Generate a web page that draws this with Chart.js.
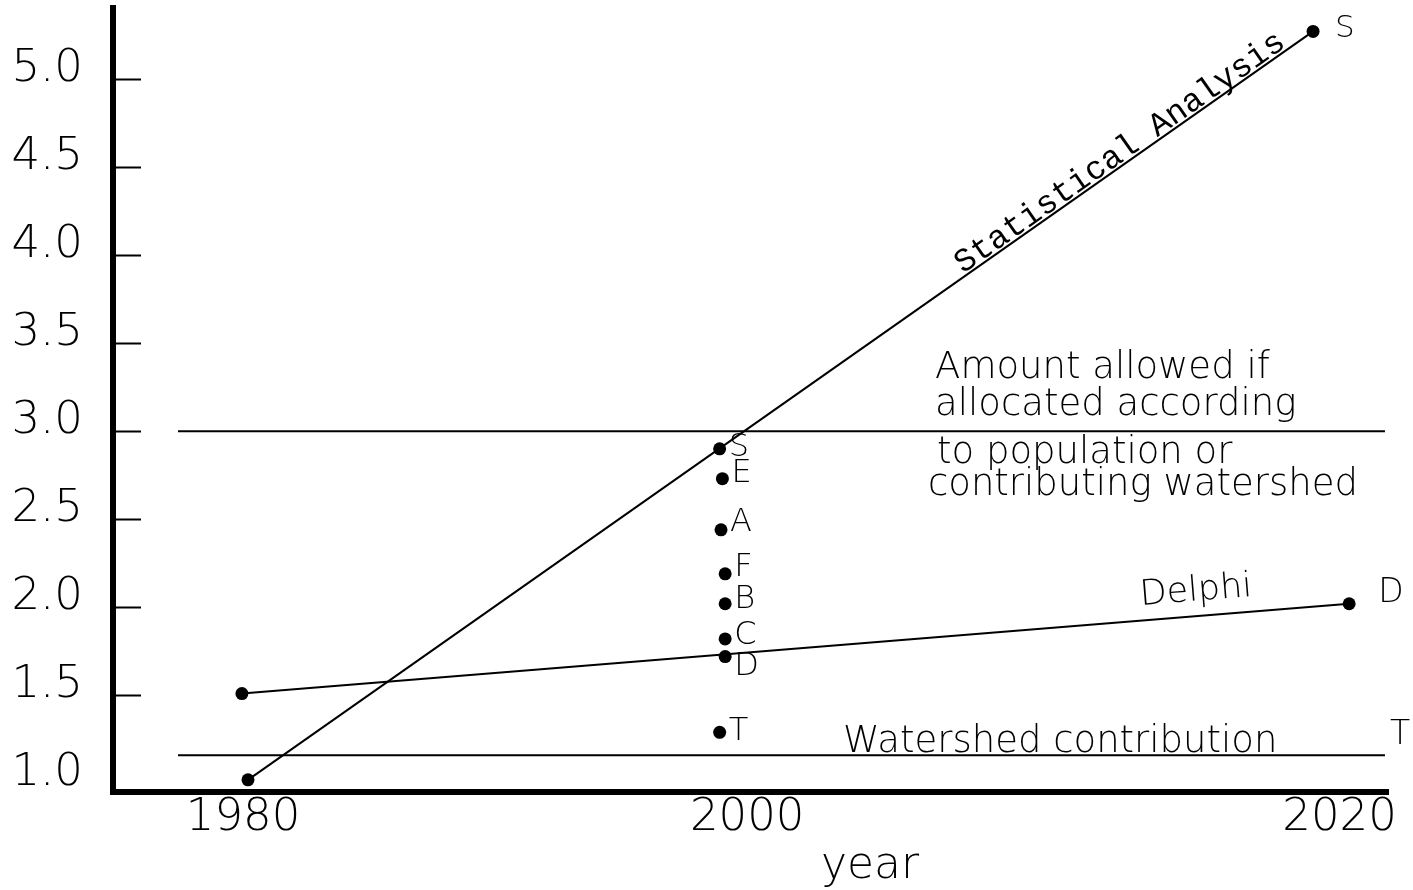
<!DOCTYPE html>
<html>
<head>
<meta charset="utf-8">
<script src="https://cdn.jsdelivr.net/npm/chart.js@4/dist/chart.umd.min.js"></script>
<style>
  html, body { margin: 0; padding: 0; background: #fff; }
  #wrap { width: 1413px; height: 890px; }
</style>
</head>
<body>
<div id="wrap"><canvas id="c" width="1413" height="890"></canvas></div>
<script>
// ---------------- data ----------------
const xTickLabels = ['1980', '2000', '2020'];
const xTickYears  = [1980, 1998.3, 2019.8];
const xAxisTitle  = 'year';

const statYears  = [1980.18, 2018.84];
const statValues = [1.02, 5.27];
const statEndLabel = 'S';

const delphiYears  = [1979.96, 2020.15];
const delphiValues = [1.51, 2.02];
const delphiEndLabel = 'D';

const allocYears  = [1977.64, 2021.45];
const allocValues = [3.0, 3.0];

const watershedYears  = [1977.64, 2021.45];
const watershedValues = [1.16, 1.16];
const watershedEndLabel = 'T';

const estLabels = ['S', 'E', 'A', 'F', 'B', 'C', 'D', 'T'];
const estYears  = [1997.3, 1997.4, 1997.35, 1997.5, 1997.5, 1997.5, 1997.5, 1997.3];
const estValues = [2.90, 2.73, 2.44, 2.19, 2.02, 1.82, 1.72, 1.29];

const allocNoteLines = ['Amount allowed if', 'allocated according', 'to population or', 'contributing watershed'];
const statNote = 'Statistical Analysis';
const delphiNote = 'Delphi';
const watershedNote = 'Watershed contribution';

// ---------------- layout / style ----------------
const SANS = '"DejaVu Sans", "Liberation Sans", sans-serif';
const MONO = '"Liberation Mono", "DejaVu Sans Mono", monospace';
const LIGHT = 200;
const noteLayout = {
  alloc: [ {x: 2005.12, y: 3.30}, {x: 2005.12, y: 3.09}, {x: 2005.19, y: 2.82}, {x: 2004.86, y: 2.64} ],
  stat: {x: 2011.83, y: 4.58},
  delphi: {x: 2014.59, y: 2.09},
  watershed: {x: 2001.78, y: 1.18},
  title: {x: 2002.76, y: 0.53}
};
const estLabelDy = {S: -1, E: -5, A: -7, F: -6, B: -4, C: -3, D: 10, T: -1};

const pts = (xs, ys) => xs.map((x, i) => ({x, y: ys[i]}));

const notesPlugin = {
  id: 'notes',
  afterDatasetsDraw(chart) {
    const {ctx, chartArea, scales: {x, y}} = chart;
    ctx.save();
    ctx.fillStyle = '#000';
    ctx.strokeStyle = '#000';

    // inward tick marks on the y axis
    ctx.lineWidth = 2;
    y.ticks.forEach((t, i) => {
      if (i === 0) return;
      const py = Math.round(y.getPixelForValue(t.value)) + 0.5;
      ctx.beginPath();
      ctx.moveTo(chartArea.left, py);
      ctx.lineTo(chartArea.left + 28, py);
      ctx.stroke();
    });

    // letters beside the 2000 estimates
    const estMeta = chart.getDatasetMeta(4);
    ctx.font = `${LIGHT} 32px ${SANS}`;
    ctx.textAlign = 'left';
    ctx.textBaseline = 'middle';
    estMeta.data.forEach((p, i) => {
      const lab = estLabels[i];
      ctx.fillText(lab, p.x + 9, p.y + (estLabelDy[lab] || 0));
    });

    // end labels
    const statMeta = chart.getDatasetMeta(0);
    const delMeta = chart.getDatasetMeta(1);
    const watMeta = chart.getDatasetMeta(3);
    const sEnd = statMeta.data[statMeta.data.length - 1];
    ctx.font = `${LIGHT} 31px ${SANS}`;
    ctx.fillText(statEndLabel, sEnd.x + 22, sEnd.y - 2);
    const dEnd = delMeta.data[delMeta.data.length - 1];
    ctx.font = `${LIGHT} 33px ${SANS}`;
    ctx.fillText(delphiEndLabel, dEnd.x + 29, dEnd.y - 10);
    const wEnd = watMeta.data[watMeta.data.length - 1];
    ctx.fillText(watershedEndLabel, wEnd.x + 5, wEnd.y - 20);

    // allocation note block
    ctx.font = `${LIGHT} 37px ${SANS}`;
    ctx.textBaseline = 'alphabetic';
    allocNoteLines.forEach((line, i) => {
      const pos = noteLayout.alloc[i];
      ctx.fillText(line, x.getPixelForValue(pos.x), y.getPixelForValue(pos.y));
    });

    // watershed note
    ctx.fillText(watershedNote, x.getPixelForValue(noteLayout.watershed.x), y.getPixelForValue(noteLayout.watershed.y));

    // rotated notes following their lines
    const rotText = (meta, txt, pos, font) => {
      const a = meta.data[0], b = meta.data[meta.data.length - 1];
      const ang = Math.atan2(b.y - a.y, b.x - a.x);
      ctx.save();
      ctx.translate(x.getPixelForValue(pos.x), y.getPixelForValue(pos.y));
      ctx.rotate(ang);
      ctx.font = font;
      ctx.textAlign = 'center';
      ctx.textBaseline = 'middle';
      ctx.fillText(txt, 0, 0);
      ctx.restore();
    };
    rotText(statMeta, statNote, noteLayout.stat, `33px ${MONO}`);
    rotText(delMeta, delphiNote, noteLayout.delphi, `${LIGHT} 35px ${SANS}`);

    // x axis title
    ctx.font = `${LIGHT} 44px ${SANS}`;
    ctx.textAlign = 'center';
    ctx.textBaseline = 'middle';
    ctx.fillText(xAxisTitle, x.getPixelForValue(noteLayout.title.x), y.getPixelForValue(noteLayout.title.y));

    ctx.restore();
  }
};

const lineStyle = {showLine: true, borderColor: '#000', borderWidth: 2, pointBackgroundColor: '#000', pointBorderWidth: 0, fill: false, tension: 0};

new Chart(document.getElementById('c').getContext('2d'), {
  type: 'scatter',
  data: {
    datasets: [
      Object.assign({label: 'Statistical Analysis', data: pts(statYears, statValues), pointRadius: 6.5}, lineStyle),
      Object.assign({label: 'Delphi', data: pts(delphiYears, delphiValues), pointRadius: 6.5}, lineStyle),
      Object.assign({label: 'Allocation', data: pts(allocYears, allocValues), pointRadius: 0}, lineStyle),
      Object.assign({label: 'Watershed contribution', data: pts(watershedYears, watershedValues), pointRadius: 0}, lineStyle),
      {label: '2000 estimates', data: pts(estYears, estValues), showLine: false, pointRadius: 6.5, pointBackgroundColor: '#000', pointBorderWidth: 0}
    ]
  },
  options: {
    responsive: false,
    animation: false,
    layout: {padding: {top: 8, right: 25, left: 0, bottom: 0}},
    plugins: {legend: {display: false}, tooltip: {enabled: false}},
    scales: {
      x: {
        type: 'linear',
        min: 1975.28,
        max: 2021.56,
        grid: {display: false},
        border: {display: true, width: 6, color: '#000'},
        afterBuildTicks: s => { s.ticks = xTickYears.map(v => ({value: v})); },
        ticks: {
          autoSkip: false, maxRotation: 0, minRotation: 0, padding: -9, color: '#000',
          font: {family: SANS, size: 45, weight: LIGHT},
          callback: (v, i) => xTickLabels[i]
        },
        afterFit: s => { s.height = 98; s.paddingLeft = 0; s.paddingRight = 0; }
      },
      y: {
        type: 'linear',
        min: 0.951,
        max: 5.403,
        grid: {display: false},
        border: {display: true, width: 6, color: '#000'},
        ticks: {
          stepSize: 0.5, includeBounds: false, padding: 22, color: '#000',
          font: {family: SANS, size: 45, weight: LIGHT, lineHeight: '20px'},
          callback: v => [Number(v).toFixed(1), '']
        },
        afterFit: s => { s.width = 113; s.paddingTop = 0; s.paddingBottom = 0; }
      }
    }
  },
  plugins: [notesPlugin]
});
</script>
</body>
</html>
